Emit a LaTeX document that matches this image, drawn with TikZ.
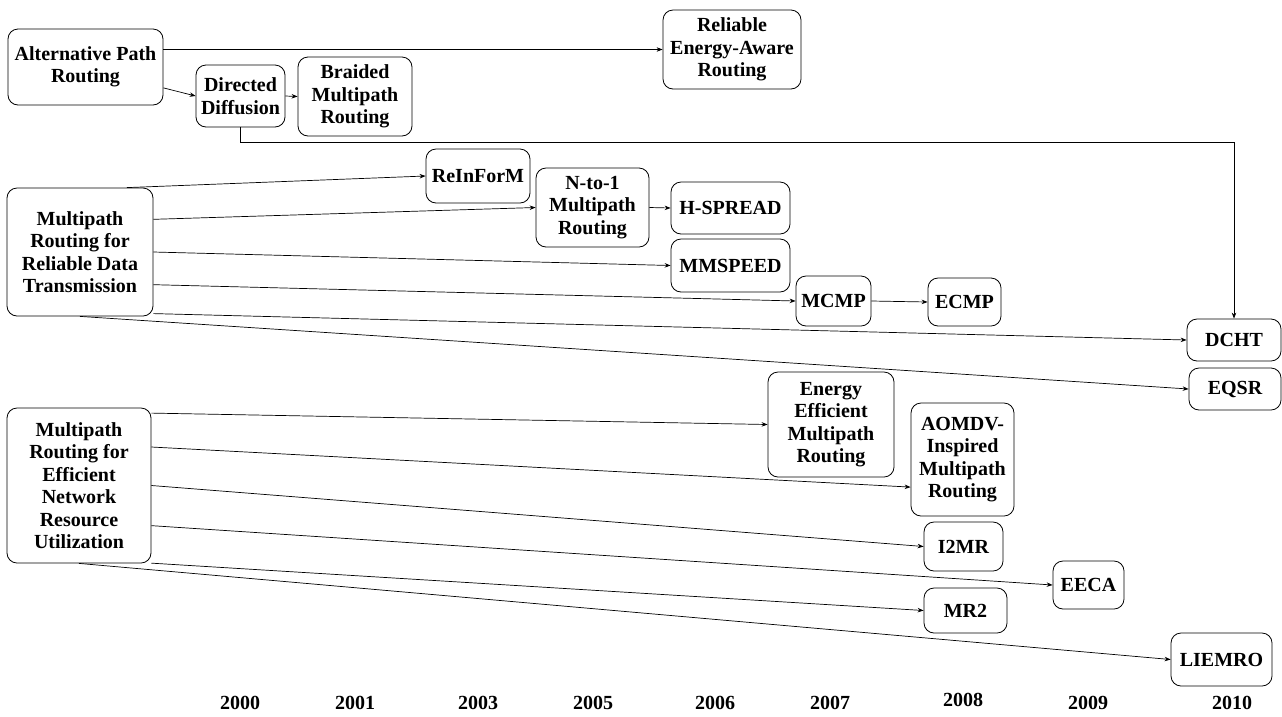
\documentclass[tikz,border=0pt]{standalone}
\usepackage{fontspec}
\setmainfont{Liberation Serif}
\usetikzlibrary{arrows.meta}
\tikzset{
  box/.style={draw, rounded corners=10pt, align=center, inner sep=2pt,
    line width=0.8pt, font=\bfseries\fontsize{20}{22.5}\selectfont},
  year/.style={font=\bfseries\fontsize{20}{22.5}\selectfont},
  link/.style={->, >={Stealth[length=6pt,width=4.5pt]}, line width=0.7pt}
}

\begin{document}
\begin{tikzpicture}[x=1pt, y=-1pt]
                \useasboundingbox (0,0) rectangle (1282,716);
                % first group
                \node[box, minimum width=155pt, minimum height=76pt]  (apr)      at (85.5,67)    {Alternative Path\\Routing};
                \node[box, minimum width=89pt,  minimum height=62pt]  (dd)       at (240.5,96)   {Directed\\Diffusion};
                \node[box, minimum width=114pt, minimum height=79pt]  (bmr)      at (355,96.5)   {Braided\\Multipath\\Routing};
                \node[box, minimum width=138pt, minimum height=79pt]  (rear)     at (732,49.5)   {Reliable\\Energy-Aware\\Routing};
                % second group
                \node[box, minimum width=146pt, minimum height=128pt] (mrrdt)    at (80,252)     {Multipath\\Routing for\\Reliable Data\\Transmission};
                \node[box, minimum width=104pt, minimum height=54pt]  (reinform) at (478,176)    {ReInForM};
                \node[box, minimum width=113pt, minimum height=79pt]  (nto)      at (592.5,207.5) {N-to-1\\Multipath\\Routing};
                \node[box, minimum width=119pt, minimum height=52pt]  (hspread)  at (730.5,208)  {H-SPREAD};
                \node[box, minimum width=119pt, minimum height=53pt]  (mmspeed)  at (730.5,265.5) {MMSPEED};
                \node[box, minimum width=75pt,  minimum height=50pt]  (mcmp)     at (833.5,301)  {MCMP};
                \node[box, minimum width=73pt,  minimum height=48pt]  (ecmp)     at (964.5,302)  {ECMP};
                \node[box, minimum width=94pt,  minimum height=42pt]  (dcht)     at (1234,340)   {DCHT};
                \node[box, minimum width=92pt,  minimum height=42pt]  (eqsr)     at (1235,389)   {EQSR};
                % third group
                \node[box, minimum width=144pt, minimum height=155pt] (mren)     at (79,485.5)   {Multipath\\Routing for\\Efficient\\Network\\Resource\\Utilization};
                \node[box, minimum width=126pt, minimum height=105pt] (eemr)     at (831,424.5)  {Energy\\Efficient\\Multipath\\Routing};
                \node[box, minimum width=103pt, minimum height=113pt] (aomdv)    at (962.5,459.5) {AOMDV-\\Inspired\\Multipath\\Routing};
                \node[box, minimum width=79pt,  minimum height=49pt]  (i2mr)     at (963.5,546.5) {I2MR};
                \node[box, minimum width=71pt,  minimum height=48pt]  (eeca)     at (1088.5,585) {EECA};
                \node[box, minimum width=83pt,  minimum height=45pt]  (mr2)      at (965.5,610.5) {MR2};
                \node[box, minimum width=101pt, minimum height=53pt]  (liemro)   at (1221.5,659.5) {LIEMRO};
                % years
                \node[year] (y2000) at (240,703)  {2000};
                \node[year] (y2001) at (355,703)  {2001};
                \node[year] (y2003) at (478,703)  {2003};
                \node[year] (y2005) at (593,703)  {2005};
                \node[year] (y2006) at (715,703)  {2006};
                \node[year] (y2007) at (830,703)  {2007};
                \node[year] (y2008) at (963,700)  {2008};
                \node[year] (y2009) at (1088,703) {2009};
                \node[year] (y2010) at (1232,703) {2010};
                % links
                \draw[link] (apr.east |- rear.west) -- (rear.west);
                \draw[link] (apr.-15) -- (dd.west);
                \draw[link] (dd.east) -- (bmr.west);
                \draw[link] (dd.south) -- ++(0,15) -| (dcht.north);
                \draw[link] (mrrdt.54) -- (reinform.west);
                \draw[link] (mrrdt.24) -- (nto.west);
                \draw[link] (nto.east) -- (hspread.west);
                \draw[link] (mrrdt.east) -- (mmspeed.west);
                \draw[link] (mrrdt.-24) -- (mcmp.west);
                \draw[link] (mcmp.east) -- (ecmp.west);
                \draw[link] (mrrdt.-40) -- (dcht.west);
                \draw[link] (mrrdt.south) -- (eqsr.west);
                \draw[link] (mren.45) -- (eemr.west);
                \draw[link] (mren.28) -- (aomdv.208);
                \draw[link] (mren.east) -- (i2mr.west);
                \draw[link] (mren.-29) -- (eeca.west);
                \draw[link] (mren.-47) -- (mr2.west);
                \draw[link] (mren.south) -- (liemro.west);
              \end{tikzpicture}
\end{document}
